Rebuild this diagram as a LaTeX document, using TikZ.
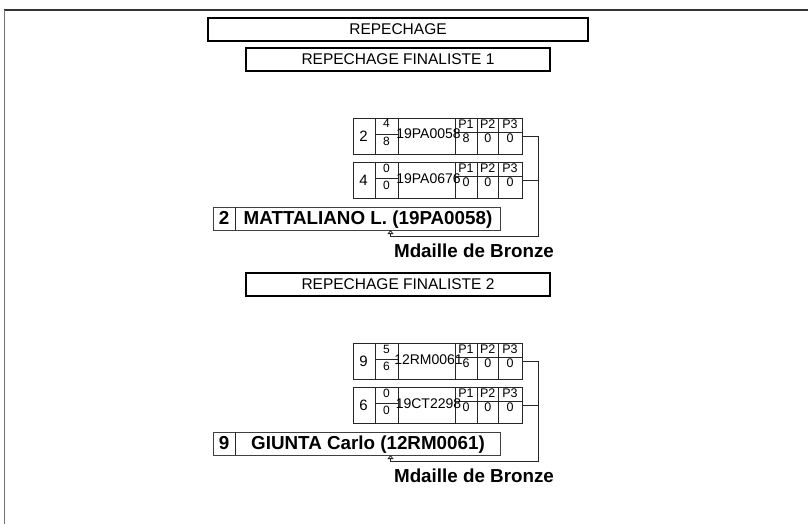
\documentclass[tikz,border=0pt]{standalone}
\usepackage{fontspec}
\setmainfont{Liberation Sans}
\usetikzlibrary{arrows.meta}
\tikzset{
  hdr/.style={draw, line width=2.2pt, minimum height=23pt, inner sep=0pt, font=\fontsize{15.5}{18}\selectfont},
  rowbox/.style={draw=black!85, line width=0.8pt, anchor=north west, minimum width=169pt, minimum height=36pt, inner sep=0pt},
  cell/.style={draw=black!85, line width=0.8pt},
  seedt/.style={anchor=base, inner sep=0pt, font=\fontsize{15}{17}\selectfont},
  sct/.style={anchor=base, inner sep=0pt, font=\fontsize{12}{14}\selectfont},
  idt/.style={anchor=base, inner sep=0pt, font=\fontsize{14}{16}\selectfont},
  ptt/.style={anchor=base, inner sep=0pt, font=\fontsize{12.5}{14}\selectfont},
  wbox/.style={draw=black!75, line width=0.8pt, anchor=north west, minimum width=287pt, minimum height=23pt, inner sep=0pt},
  wtxt/.style={anchor=base, inner sep=0pt, font=\bfseries\fontsize{18.8}{22}\selectfont},
  conn/.style={draw=black!85, line width=0.8pt},
  arr/.style={conn, -{Triangle[open, width=6pt, length=4pt]}}
}
\newcommand{\mrow}[9]{%
\begin{scope}[yshift=-#2pt]
\node[rowbox] (#1) at (352.5,118) {};
\draw[cell] (375,118) -- (375,154) (398,118) -- (398,154) (455,118) -- (455,154)
  (477,118) -- (477,154) (498.5,118) -- (498.5,154);
\draw[cell] (375,134) -- (398,134) (455,132) -- (521.5,132);
\node[seedt] (#1s) at (363.5,141.5) {#3};
\node[sct] (#1t) at (386.5,128) {#4};
\node[sct] (#1b) at (386.5,145.5) {#5};
\node[idt] (#1n) at (428.5,139) {#6};
\node[ptt] (#1l1) at (466,128.5) {P1};
\node[ptt] (#1l2) at (487.75,128.5) {P2};
\node[ptt] (#1l3) at (510,128.5) {P3};
\node[ptt] (#1v1) at (466,142.5) {#7};
\node[ptt] (#1v2) at (487.75,142.5) {#8};
\node[ptt] (#1v3) at (510,142.5) {#9};
\end{scope}}
\begin{document}
\begin{tikzpicture}[x=1pt,y=-1pt]
\useasboundingbox (0,0) rectangle (808,524);
% page frame
\draw[line width=1.5pt, black!80] (4,10) -- (808,10);
\draw[line width=1.5pt, black!55] (4.5,10) -- (4.5,524);
% headers
\node[hdr, minimum width=380pt] (h0) at (398,29.5) {REPECHAGE};
\node[hdr, minimum width=304pt] (h1) at (398,59.5) {REPECHAGE FINALISTE 1};
\node[hdr, minimum width=304pt] (h2) at (398,284.5) {REPECHAGE FINALISTE 2};
% match 1
\mrow{m1a}{0}{2}{4}{8}{19PA0058}{8}{0}{0}
\mrow{m1b}{44}{4}{0}{0}{19PA0676}{0}{0}{0}
\node[wbox] (w1) at (212.5,207) {};
\draw[cell] (235.5,207) -- (235.5,230);
\node[wtxt] (w1s) at (224,224) {2};
\node[wtxt] (w1n) at (368,224) {MATTALIANO L. (19PA0058)};
\node[wtxt] (md1) at (474,257) {Mdaille de Bronze};
\coordinate (c1) at (538,236);
\coordinate (t1) at (390.5,230);
\draw[arr] (m1a.east) -| (c1) -| (t1);
\draw[conn] (m1b.east) -- (m1b.east -| c1);
% match 2
\mrow{m2a}{225}{9}{5}{6}{12RM0061}{6}{0}{0}
\mrow{m2b}{269}{6}{0}{0}{19CT2298}{0}{0}{0}
\node[wbox] (w2) at (212.5,432) {};
\draw[cell] (235.5,432) -- (235.5,455);
\node[wtxt] (w2s) at (224,449) {9};
\node[wtxt] (w2n) at (368,449) {GIUNTA Carlo (12RM0061)};
\node[wtxt] (md2) at (474,482) {Mdaille de Bronze};
\coordinate (c2) at (538,461);
\coordinate (t2) at (390.5,455);
\draw[arr] (m2a.east) -| (c2) -| (t2);
\draw[conn] (m2b.east) -- (m2b.east -| c2);
\end{tikzpicture}
\end{document}
